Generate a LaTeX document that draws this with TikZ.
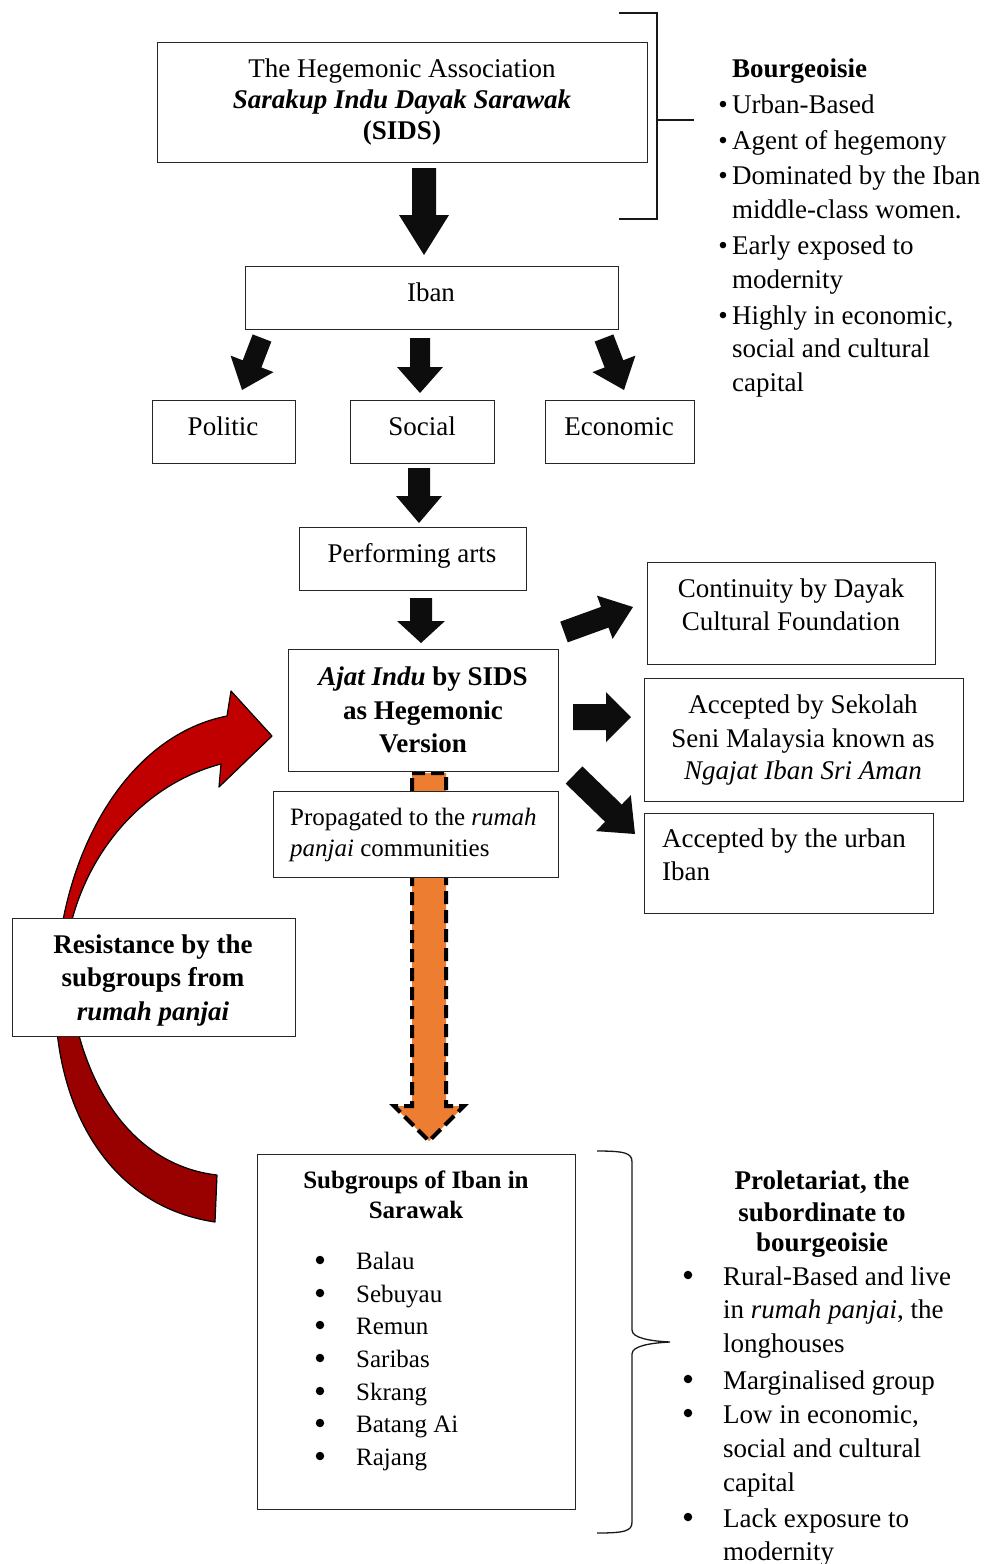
\documentclass[tikz,border=0pt]{standalone}
\usepackage{fontspec}
\setmainfont{Liberation Serif}
\usetikzlibrary{calc}
\definecolor{arrred}{HTML}{C00000}
\definecolor{arrdark}{HTML}{990000}
\definecolor{arrorange}{HTML}{ED7D31}
\newcommand\blockarr[8]{%
  \pgfmathsetmacro\baA{atan2(-(#4)+(#2),(#3)-(#1))}%
  \pgfmathsetmacro\baL{veclen((#3)-(#1),(#4)-(#2))}%
  \pgfmathsetmacro\baB{\baL-(#7)}%
  \begin{scope}[shift={(#1,#2)},rotate=\baA]
    \fill[#8] (0,-#5) -- (\baB,-#5) -- (\baB,-#6) -- (\baL,0) -- (\baB,#6) -- (\baB,#5) -- (0,#5) -- cycle;
  \end{scope}}
\tikzset{
  box/.style={draw=black!85, line width=1.1pt, fill=white, inner sep=0pt, anchor=north west},
  txt/.style={font=\fontsize{27}{33}\selectfont, inner sep=0pt, anchor=base},
  txs/.style={font=\fontsize{25}{30}\selectfont, inner sep=0pt, anchor=base},
  txl/.style={txt, anchor=base west},
  txsl/.style={txs, anchor=base west},
  bul/.style={txt, anchor=base},
  bigbul/.style={circle, fill=black, inner sep=0pt, minimum size=8.5pt},
  thinline/.style={draw=black!90, line width=1.2pt},
  blk/.style={fill=black!95}
}
\begin{document}
\begin{tikzpicture}[x=1pt,y=-1pt]
\useasboundingbox (0,0) rectangle (984,1564);
\fill[white] (0,0) rectangle (984,1564);

% ---- red curved arrow (drawn first, behind the boxes)
\def\redpath{(215,1222) .. controls (100,1205) and (45,1090) .. (57,965) .. controls (66,845) and (130,735) .. (227,716) -- (231,691) -- (272,736) -- (219,787) -- (221,764) .. controls (140,785) and (78,860) .. (66,950) .. controls (72,1080) and (130,1165) .. (217,1175) -- cycle}
\fill[arrdark] \redpath;
\begin{scope}
  \clip (0,0) rectangle (984,980);
  \fill[arrred] \redpath;
\end{scope}
\draw[black, line width=1.2pt, line join=round] \redpath;

% ---- orange dashed arrow
\draw[fill=arrorange, draw=black, line width=4pt, dash pattern=on 13pt off 6pt]
  (412,773) -- (446,773) -- (446,1106) -- (464,1106) -- (429,1141) -- (394,1106) -- (412,1106) -- cycle;

% ---- boxes
\node[box, minimum width=490, minimum height=120] (top) at (157,42) {};
\node[box, minimum width=373, minimum height=63] (iban) at (245,266) {};
\node[box, minimum width=143, minimum height=63] (politic) at (152,400) {};
\node[box, minimum width=144, minimum height=63] (social) at (350,400) {};
\node[box, minimum width=149, minimum height=63] (econ) at (545,400) {};
\node[box, minimum width=227, minimum height=63] (perf) at (299,527) {};
\node[box, minimum width=270, minimum height=122] (ajat) at (288,649) {};
\node[box, minimum width=288, minimum height=102] (cont) at (647,562) {};
\node[box, minimum width=319, minimum height=123] (sekolah) at (644,678) {};
\node[box, minimum width=289, minimum height=100] (urban) at (644,813) {};
\node[box, minimum width=285, minimum height=86] (prop) at (273,791) {};
\node[box, minimum width=283, minimum height=118] (resist) at (12,918) {};
\node[box, minimum width=318, minimum height=355] (sub) at (257,1154) {};

% ---- box texts
\node[txt] (t1) at (402,77) {The Hegemonic Association};
\node[txt] (t2) at (402,108) {\bfseries\itshape Sarakup Indu Dayak Sarawak};
\node[txt] (t3) at (402,139) {\bfseries (SIDS)};
\node[txt] (t4) at (431,301) {Iban};
\node[txt] (t5) at (223,435) {Politic};
\node[txt] (t6) at (422,435) {Social};
\node[txt] (t7) at (619,435) {Economic};
\node[txt] (t8) at (412,562) {Performing arts};
\node[txt] (t9) at (423,685) {\bfseries\itshape Ajat Indu\upshape{} by SIDS};
\node[txt] (t10) at (423,719) {\bfseries as Hegemonic};
\node[txt] (t11) at (423,752) {\bfseries Version};
\node[txt] (t12) at (791,597) {Continuity by Dayak};
\node[txt] (t13) at (791,630) {Cultural Foundation};
\node[txt] (t14) at (803,713) {Accepted by Sekolah};
\node[txt] (t15) at (803,747) {Seni Malaysia known as};
\node[txt] (t16) at (803,779) {\itshape Ngajat Iban Sri Aman};
\node[txl] (t17) at (662,847) {Accepted by the urban};
\node[txl] (t18) at (662,880) {Iban};
\node[txsl] (t19) at (290,825) {Propagated to the \textit{rumah}};
\node[txsl] (t20) at (290,856) {\textit{panjai} communities};
\node[txt] (t21) at (153,953) {\bfseries Resistance by the};
\node[txt] (t22) at (153,986) {\bfseries subgroups from};
\node[txt] (t23) at (153,1020) {\bfseries\itshape rumah panjai};
\node[txs] (t24) at (416,1188) {\bfseries Subgroups of Iban in};
\node[txs] (t25) at (416,1218) {\bfseries Sarawak};
\foreach \nm/\yy [count=\i] in {Balau/1269, Sebuyau/1302, Remun/1334, Saribas/1367, Skrang/1400, Batang Ai/1432, Rajang/1465}{
  \node[bigbul] (sb\i) at (320,\yy-9) {};
  \node[txsl] (sg\i) at (356,\yy) {\nm};
}

% ---- Bourgeoisie list
\node[txl] (b0) at (732,77) {\bfseries Bourgeoisie};
\foreach \yy [count=\i] in {113,149,184,254,324}{
  \node[bul] (bb\i) at (723,\yy) {•};
}
\node[txl] (b1) at (732,113) {Urban-Based};
\node[txl] (b2) at (732,149) {Agent of hegemony};
\node[txl] (b3) at (732,184) {Dominated by the Iban};
\node[txl] (b4) at (732,218) {middle-class women.};
\node[txl] (b5) at (732,254) {Early exposed to};
\node[txl] (b6) at (732,288) {modernity};
\node[txl] (b7) at (732,324) {Highly in economic,};
\node[txl] (b8) at (732,357) {social and cultural};
\node[txl] (b9) at (732,391) {capital};

% ---- Proletariat list
\node[txt] (p0) at (822,1189) {\bfseries Proletariat, the};
\node[txt] (p00) at (822,1221) {\bfseries subordinate to};
\node[txt] (p000) at (822,1251) {\bfseries bourgeoisie};
\foreach \yy [count=\i] in {1285,1389,1423,1527}{
  \node[bigbul] (pb\i) at (688,\yy-10) {};
}
\node[txl] (p1) at (723,1285) {Rural-Based and live};
\node[txl] (p2) at (723,1318) {in \textit{rumah panjai}, the};
\node[txl] (p3) at (723,1352) {longhouses};
\node[txl] (p4) at (723,1389) {Marginalised group};
\node[txl] (p5) at (723,1423) {Low in economic,};
\node[txl] (p6) at (723,1457) {social and cultural};
\node[txl] (p7) at (723,1491) {capital};
\node[txl] (p8) at (723,1527) {Lack exposure to};
\node[txl] (p9) at (723,1560) {modernity};

% ---- top bracket
\coordinate (br1) at (619,13);
\coordinate (br2) at (657,13);
\coordinate (br3) at (657,219);
\coordinate (br4) at (619,219);
\coordinate (brm) at (657,120);
\coordinate (brt) at (694,120);
\draw[thinline] (br1) -- (br2) -- (br3) -- (br4);
\draw[thinline] (brm) -- (brt);

% ---- bottom brace
\draw[thinline, line width=1.3pt] (597,1151) .. controls (625,1151) and (632,1153) .. (632,1162) -- (632,1330)
  .. controls (632,1338) and (650,1341) .. (670,1342)
  .. controls (650,1343) and (632,1346) .. (632,1354) -- (632,1522)
  .. controls (632,1531) and (625,1533) .. (597,1533);

% ---- black block arrows
\blockarr{424}{168}{424}{255}{12}{25}{40}{blk}
\blockarr{262}{338}{242}{390}{10}{23}{28}{blk}
\blockarr{420}{338}{420}{393}{10}{23}{26}{blk}
\blockarr{604}{338}{624}{390}{10}{23}{28}{blk}
\blockarr{419}{468}{419}{523}{11}{23}{27}{blk}
\blockarr{421}{598}{421}{643}{11}{24}{22}{blk}
\blockarr{564}{632}{633}{607}{11}{23}{30}{blk}
\blockarr{573}{717}{631}{717}{13}{25}{25}{blk}
\blockarr{574}{775}{635}{834}{12}{25}{30}{blk}
\end{tikzpicture}
\end{document}
